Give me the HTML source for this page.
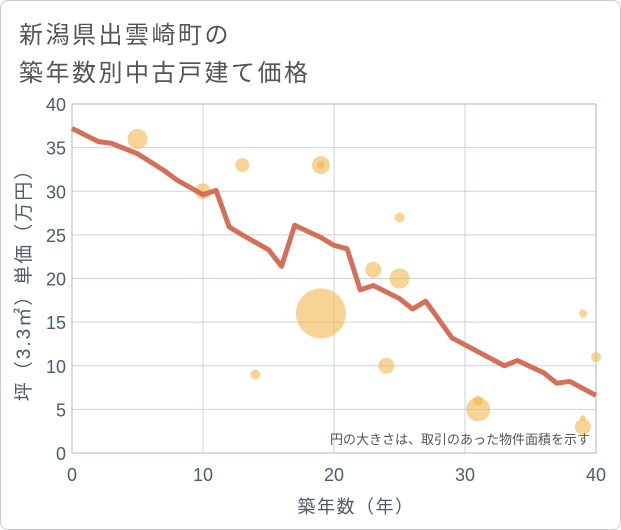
<!DOCTYPE html>
<html><head><meta charset="utf-8"><style>
body{margin:0;background:#fff;}
#c{position:relative;width:619px;height:528px;border:1px solid #ccc;border-radius:8px;background:#fff;overflow:hidden;font-family:"Liberation Sans","Noto Sans CJK JP",sans-serif;}
.t{position:absolute;left:18px;color:#555;font-size:24px;letter-spacing:2.5px;}
</style></head><body>
<div id="c">
<div class="t" style="top:14px">新潟県出雲崎町の</div>
<div class="t" style="top:52px">築年数別中古戸建て価格</div>
<svg id="s" width="621" height="530" style="position:absolute;left:-1px;top:-1px"></svg>
</div>
<script>
const xTicks=[0,10,20,30,40];
const yTicks=[0,5,10,15,20,25,30,35,40];
const lineYears=[0,2,3,5,7,8,10,11,12,13,15,16,17,19,20,21,22,23,25,26,27,29,33,34,36,37,38,40];
const linePrices=[37.2,35.7,35.5,34.3,32.4,31.3,29.6,30.1,25.9,25,23.3,21.4,26.1,24.7,23.8,23.4,18.7,19.2,17.7,16.5,17.4,13.2,10,10.6,9.2,8,8.2,6.6];
const bubbleYears=[5,10,13,19,19,19,14,23,24,25,25,31,31,39,40,39,39];
const bubblePrices=[36,30,33,33,33,16,9,21,10,20,27,5,6,16,11,4,3];
const bubbleSizes=[10,8,7,9,4,25,5,8,8,10,5,12,5,4,5,3,8];
const NS="http://www.w3.org/2000/svg";
const s=document.getElementById('s');
const X=v=>72+v*(596-72)/40, Y=v=>453-v*(453-104)/40;
function el(t,a){const e=document.createElementNS(NS,t);for(const k in a)e.setAttribute(k,a[k]);s.appendChild(e);return e;}
let g;
yTicks.forEach(v=>{g=el('line',{x1:72,x2:596,y1:Y(v),y2:Y(v),stroke:'#c8d3df','stroke-width':1});


g=el('text',{x:66,y:Y(v)+7,'text-anchor':'end','font-size':18,fill:'#4d5b6a'});g.textContent=v;

});
xTicks.forEach(v=>{g=el('line',{x1:X(v),x2:X(v),y1:104,y2:453,stroke:'#c8d3df','stroke-width':1});


g=el('text',{x:X(v),y:481,'text-anchor':'middle','font-size':18,fill:'#4d5b6a'});g.textContent=v;

});
g=el('rect',{x:72,y:104,width:524,height:349,fill:'none',stroke:'#aab8c6'});


bubbleYears.forEach((yr,i)=>{g=el('circle',{cx:X(yr),cy:Y(bubblePrices[i]),r:bubbleSizes[i],fill:'#f1b650','fill-opacity':0.6});

});
g=el('polyline',{points:lineYears.map((yr,i)=>X(yr)+','+Y(linePrices[i])).join(' '),fill:'none',stroke:'#d4705a','stroke-width':5,'stroke-linejoin':'round'});


g=el('text',{x:590,y:444,'text-anchor':'end','font-size':13,fill:'#555'});g.textContent='円の大きさは、取引のあった物件面積を示す';


g=el('text',{x:356,y:513,'text-anchor':'middle','font-size':18,'letter-spacing':1.5,fill:'#4d5b6a'});g.textContent='築年数（年）';


g=el('text',{x:0,y:0,'text-anchor':'middle','font-size':19,'letter-spacing':2,fill:'#4d5b6a',transform:'translate(30,280) rotate(-90)'});g.textContent='坪（3.3㎡）単価（万円）';


</script>
</body></html>
